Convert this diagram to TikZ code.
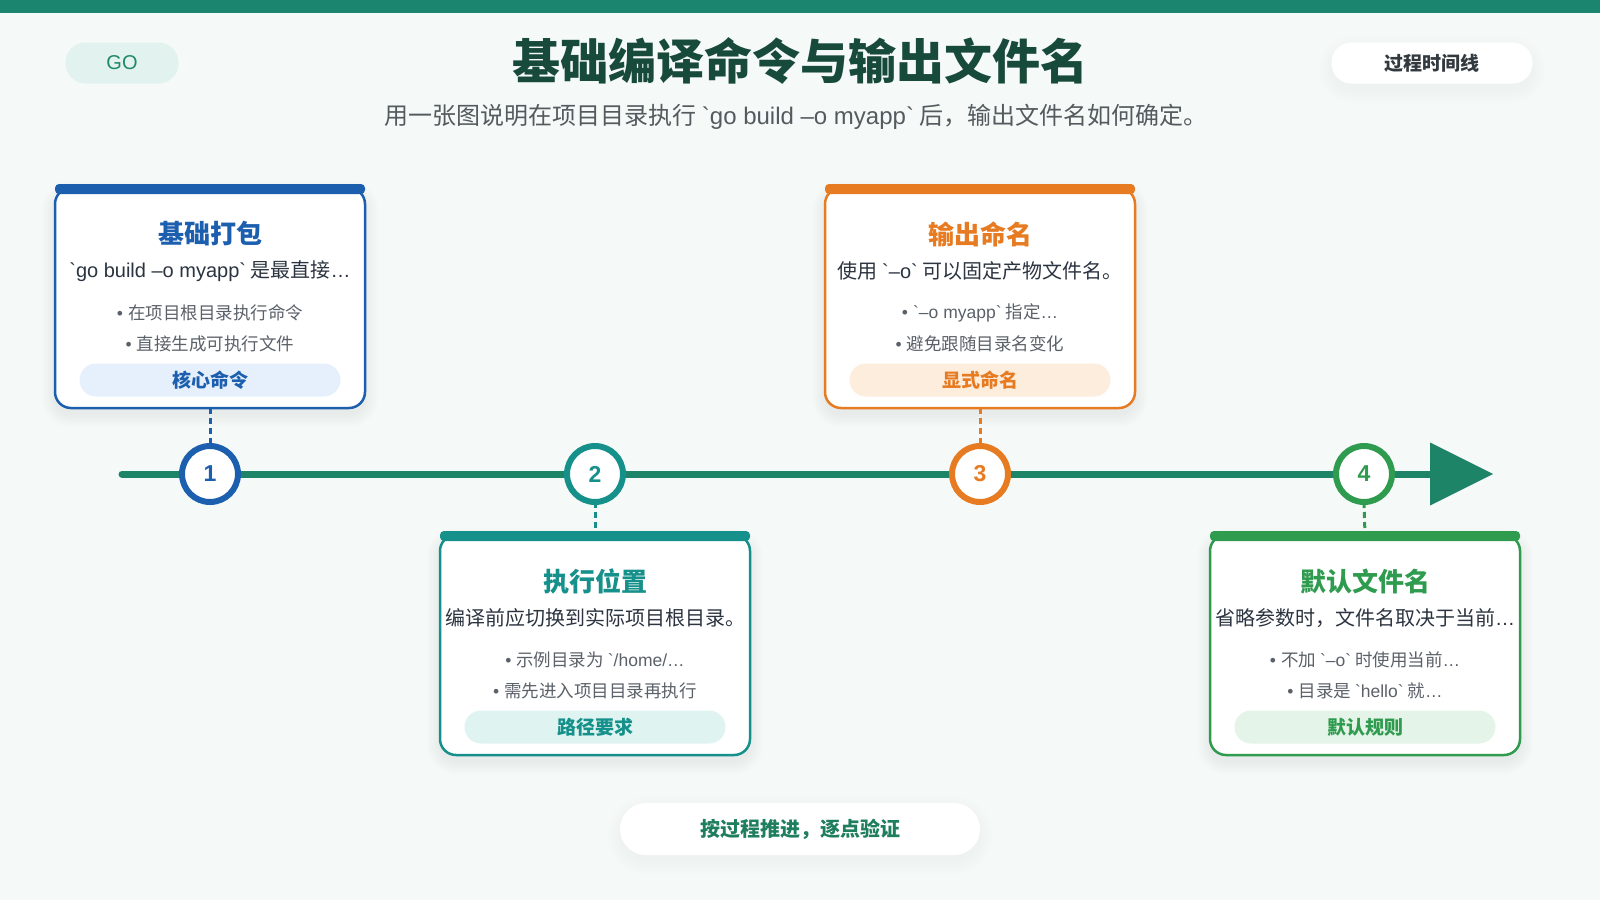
\documentclass[tikz,border=0pt]{standalone}
\usepackage{fontspec}
\setmainfont{Noto Sans CJK SC}
\newfontfamily\latinf{Liberation Sans}
\usetikzlibrary{arrows.meta}
\definecolor{bgc}{HTML}{F5F9F8}
\definecolor{topbar}{HTML}{1B8570}
\definecolor{tlc}{HTML}{1D8468}
\definecolor{titlec}{HTML}{184A3B}
\definecolor{subc}{HTML}{545B5E}
\definecolor{blueC}{HTML}{1D5FAF}
\definecolor{tealC}{HTML}{16908A}
\definecolor{orangeC}{HTML}{E77B22}
\definecolor{greenC}{HTML}{2F9B4F}
\definecolor{blueT}{HTML}{E6F0FC}
\definecolor{tealT}{HTML}{DFF4F1}
\definecolor{orangeT}{HTML}{FDEDDD}
\definecolor{greenT}{HTML}{E4F4E8}
\definecolor{descC}{HTML}{2B3440}
\definecolor{bulC}{HTML}{5B6169}
\definecolor{footC}{HTML}{1E7E5E}
\definecolor{goC}{HTML}{1F8A66}
\definecolor{goFill}{HTML}{E2F2EE}
\definecolor{rpC}{HTML}{333A3F}
\pgfdeclarelayer{back}\pgfdeclarelayer{shade}
\pgfsetlayers{back,shade,main}
\newcommand\fsz[1]{\fontsize{#1}{#1}\selectfont}
\newcommand\bqt{\textasciigrave}
\newcommand\code[1]{{\latinf\bqt#1\bqt}}
\newcommand\elp{{\latinf\char"2026}}
\newcommand\bul{{\latinf\char"2022}\hspace{5pt}}
\tikzset{
  every node/.style={inner sep=0pt, outer sep=0pt},
  cardbox/.style={rectangle, rounded corners=16pt, fill=white, line width=2.5pt, minimum width=310pt, minimum height=220pt},
  cardtitle/.style={font=\fsz{26}\bfseries},
  carddesc/.style={font=\fsz{20}, text=descC},
  cardbul/.style={font=\fsz{17.5}, text=bulC},
  tagpill/.style={rectangle, rounded corners=16.5pt, minimum width=261pt, minimum height=33pt, font=\fsz{19}\bfseries},
  stepc/.style={circle, fill=white, line width=6pt, minimum size=56pt, font=\latinf\fsz{23}\bfseries},
  conn/.style={line width=3pt, dash pattern=on 6pt off 4pt},
  pill/.style={rectangle, rounded corners=20pt},
}
% #1 node name, #2 corner radius, #3 opacity per layer
\newcommand\softshadow[3]{%
  \begin{pgfonlayer}{shade}
  \foreach \s [evaluate=\s as \r using {#2+\s}] in {1,3,...,13}{
    \fill[black, opacity=#3, rounded corners=\r pt]
      ([shift={(-\s,-\s+6)}]#1.north west) rectangle ([shift={(\s,\s+6)}]#1.south east);
  }
  \end{pgfonlayer}}
% #1 name, #2 colour, #3 tag fill, #4 title, #5 desc, #6 bullet1, #7 bullet2, #8 tag
\newcommand\drawcard[8]{%
  \node[cardbox, draw=#2] (#1) at (0,0) {};
  \softshadow{#1}{16}{0.008}
  \fill[#2, rounded corners=4pt] ([yshift=4pt]#1.north west) rectangle ([yshift=-6pt]#1.north east);
  \node[cardtitle, text=#2] (#1-title) at (0,-64) {#4};
  \node[carddesc] (#1-desc) at (0,-27) {#5};
  \node[cardbul] (#1-b1) at (0,15) {\bul #6};
  \node[cardbul] (#1-b2) at (0,46) {\bul #7};
  \node[tagpill, fill=#3, text=#2] (#1-tag) at (0,82) {#8};
}
\begin{document}
\begin{tikzpicture}[x=1pt, y=-1pt]
\begin{pgfonlayer}{back}
\fill[bgc] (0,0) rectangle (1600,900);
\fill[topbar] (0,0) rectangle (1600,13);
\end{pgfonlayer}
\useasboundingbox (0,0) rectangle (1600,900);

% header
\node[pill, fill=goFill, minimum width=113pt, minimum height=41pt, text=goC, font=\latinf\fsz{20}] (go) at (122,63) {GO};
\node[text=titlec, font=\fsz{48}\bfseries] (title) at (800,61) {基础编译命令与输出文件名};
\node[text=subc, font=\fsz{24}] (subtitle) at (796,117) {用一张图说明在项目目录执行 \code{go build –o myapp} 后，输出文件名如何确定。};
\node[pill, fill=white, minimum width=201pt, minimum height=41pt, text=rpC, font=\fsz{19}\bfseries] (timeline-tag) at (1432,63) {过程时间线};
\softshadow{timeline-tag}{20}{0.004}

% timeline
\coordinate (tlstart) at (122,474);
\coordinate (tlend) at (1493,474);
\draw[tlc, line width=7pt, line cap=round, -{Triangle[length=63pt, width=63pt, line width=0pt]}] (tlstart) -- (tlend);

\node[stepc, draw=blueC, text=blueC] (n1) at (210,474) {1};
\node[stepc, draw=tealC, text=tealC] (n2) at (595,474) {2};
\node[stepc, draw=orangeC, text=orangeC] (n3) at (980,474) {3};
\node[stepc, draw=greenC, text=greenC] (n4) at (1364,474) {4};

% cards
\begin{scope}[shift={(210,298)}]
\drawcard{c1}{blueC}{blueT}{基础打包}{\code{go build –o myapp} 是最直接\elp}{在项目根目录执行命令}{直接生成可执行文件}{核心命令}
\end{scope}
\begin{scope}[shift={(595,645)}]
\drawcard{c2}{tealC}{tealT}{执行位置}{编译前应切换到实际项目根目录。}{示例目录为 {\latinf\bqt/home/}\elp}{需先进入项目目录再执行}{路径要求}
\end{scope}
\begin{scope}[shift={(980,298)}]
\drawcard{c3}{orangeC}{orangeT}{输出命名}{使用 \code{–o} 可以固定产物文件名。}{\code{–o myapp} 指定\elp}{避免跟随目录名变化}{显式命名}
\end{scope}
\begin{scope}[shift={(1365,645)}]
\drawcard{c4}{greenC}{greenT}{默认文件名}{省略参数时，文件名取决于当前\elp}{不加 \code{–o} 时使用当前\elp}{目录是 \code{hello} 就\elp}{默认规则}
\end{scope}

% connectors
\draw[conn, blueC] (c1.south) -- (n1.north);
\draw[conn, tealC] (n2.south) -- (c2.north);
\draw[conn, orangeC] (c3.south) -- (n3.north);
\draw[conn, greenC] (n4.south) -- (c4.north);

% footer
\node[pill, rounded corners=26pt, fill=white, minimum width=360pt, minimum height=52pt, text=footC, font=\fsz{20}\bfseries] (footer) at (800,829) {按过程推进，逐点验证};
\softshadow{footer}{26}{0.004}
\end{tikzpicture}
\end{document}
